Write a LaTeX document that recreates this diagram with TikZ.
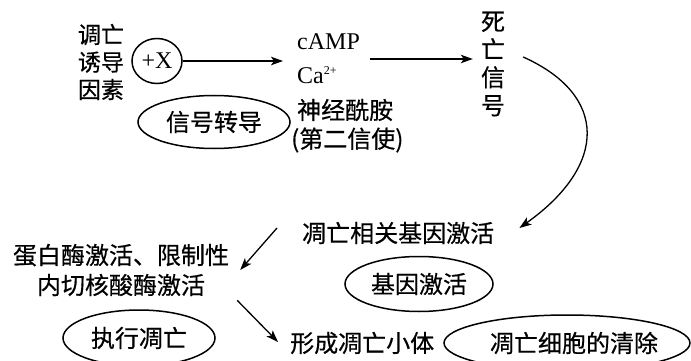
\documentclass[tikz,border=0pt]{standalone}
\usepackage{fontspec}
\setmainfont{Liberation Serif}
\newfontfamily\cjk[FakeBold=0.5]{Noto Sans CJK SC}
\usetikzlibrary{arrows.meta,shapes.geometric,calc}
\begin{document}
\begin{tikzpicture}[x=1pt,y=-1pt,
  txt/.style={font=\cjk\fontsize{24}{28}\selectfont, inner sep=0pt},
  lat/.style={font=\rmfamily\fontsize{24}{28}\selectfont, inner sep=0pt},
  ell/.style={draw, ellipse, line width=1.5pt, inner sep=0pt, font=\cjk\fontsize{24}{28}\selectfont},
  arr/.style={-{Stealth[length=12pt,width=8.5pt,inset=3pt]}, line width=1.3pt},
]
\useasboundingbox (0,0) rectangle (691,361);
\clip (0,0) rectangle (691,361);

% top row
\node[txt, align=center, font=\cjk\fontsize{23}{27.5}\selectfont] (induce) at (101,62) {调亡\\诱导\\因素};
\node[ell, minimum width=50, minimum height=45, font=\rmfamily\fontsize{24}{28}\selectfont] (x) at (157,61) {+X};
\coordinate (msgin) at (283,61);
\node[ell, minimum width=152, minimum height=53] (signal) at (214,122) {信号转导};

\node[lat, anchor=west] (camp) at (297,42) {cAMP};
\node[lat, anchor=west] (ca) at (297,75) {Ca\textsuperscript{\fontsize{12}{12}\selectfont 2+}};
\node[txt, anchor=west] (cer) at (297,110) {神经酰胺};
\node[txt, anchor=west] (second) at (291,140) {(第二信使)};
\coordinate (msgout) at (370,59);

\node[txt, align=center] (death) at (493,64) {死\\亡\\信\\号};

% middle
\node[txt, anchor=west] (genes) at (302,233) {凋亡相关基因激活};
\node[ell, minimum width=148, minimum height=55] (geneact) at (419,284) {基因激活};

\node[txt, align=center, font=\cjk\fontsize{24}{30}\selectfont] (protease) at (121,270) {蛋白酶激活、限制性\\内切核酸酶激活};

% bottom
\node[ell, minimum width=152, minimum height=56] (exec) at (139,338) {执行凋亡};
\node[txt, anchor=west] (body) at (290,343) {形成凋亡小体};
\node[ell, minimum width=246, minimum height=56] (clear) at (567,343) {};
\node[txt] (cleartxt) at (574,343) {凋亡细胞的清除};

% connectors
\draw[arr] (x.east) -- (msgin);
\draw[arr, shorten >=8pt] (msgout) -- (msgout -| death.west);
\draw[arr] ([shift={(18,-7)}]death.east) .. controls (608,95) and (608,165) .. ([shift={(25,-5)}]genes.east);
\draw[arr] ([shift={(-25,-5)}]genes.west) -- ([shift={(11,0)}]protease.east);
\draw[arr] ([shift={(8,4)}]protease.south east) -- ([shift={(-12,-1)}]body.west);
\end{tikzpicture}
\end{document}
